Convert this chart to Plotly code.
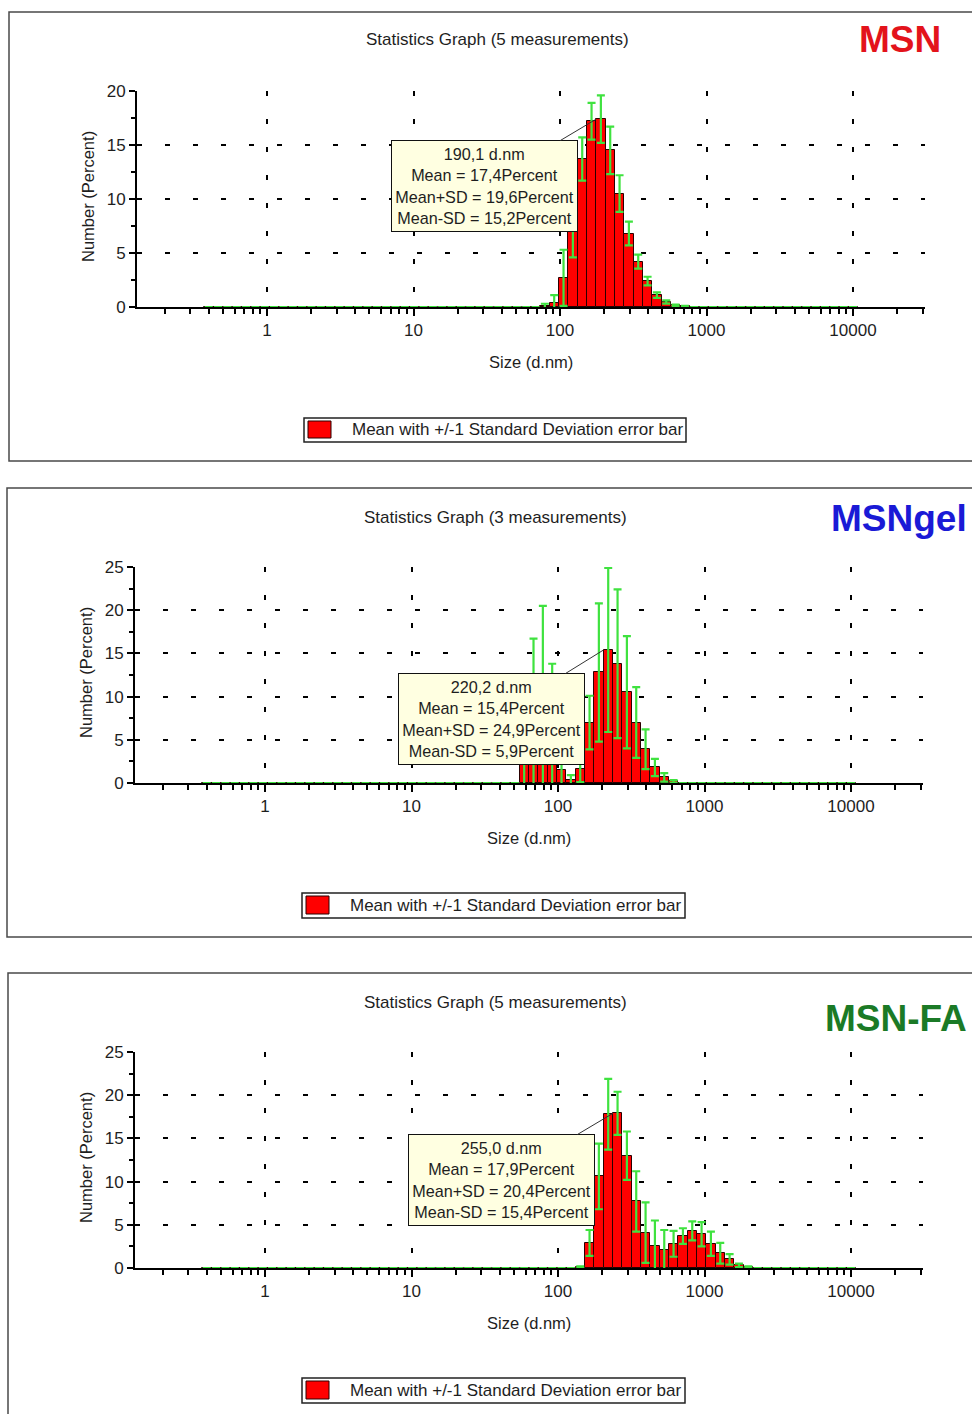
import numpy as np
import plotly.graph_objects as go

# ---------------- data ----------------
SIZES = [0.4, 0.4632, 0.5365, 0.6213, 0.7195, 0.8332, 0.9649, 1.117, 1.294, 1.499,
         1.736, 2.01, 2.328, 2.696, 3.122, 3.615, 4.187, 4.849, 5.615, 6.503,
         7.531, 8.721, 10.1, 11.7, 13.54, 15.69, 18.17, 21.04, 24.36, 28.21,
         32.67, 37.84, 43.82, 50.75, 58.77, 68.06, 78.82, 91.28, 105.7, 122.4,
         141.8, 164.2, 190.1, 220.2, 255.0, 295.3, 342.0, 396.1, 458.7, 531.2,
         615.1, 712.4, 825.0, 955.4, 1106, 1281, 1484, 1718, 1990, 2305,
         2669, 3091, 3580, 4145, 4801, 5560, 6439, 7456, 8635, 10000]

MSN_MEAN = [0, 0, 0, 0, 0, 0, 0, 0, 0, 0,
            0, 0, 0, 0, 0, 0, 0, 0, 0, 0,
            0, 0, 0, 0, 0, 0, 0, 0, 0, 0,
            0, 0, 0, 0, 0, 0, 0.1, 0.4, 2.7, 8.0,
            13.7, 17.2, 17.4, 14.5, 10.5, 6.8, 4.2, 2.4, 1.1, 0.46,
            0.15, 0.05, 0, 0, 0, 0, 0, 0, 0, 0,
            0, 0, 0, 0, 0, 0, 0, 0, 0, 0]
MSN_SD = [0, 0, 0, 0, 0, 0, 0, 0, 0, 0,
          0, 0, 0, 0, 0, 0, 0, 0, 0, 0,
          0, 0, 0, 0, 0, 0, 0, 0, 0, 0,
          0, 0, 0, 0, 0, 0, 0.2, 0.7, 2.6, 3.4,
          2.0, 1.7, 2.2, 2.2, 1.7, 1.1, 0.65, 0.4, 0.25, 0.15,
          0.08, 0.05, 0, 0, 0, 0, 0, 0, 0, 0,
          0, 0, 0, 0, 0, 0, 0, 0, 0, 0]

GEL_MEAN = [0, 0, 0, 0, 0, 0, 0, 0, 0, 0,
            0, 0, 0, 0, 0, 0, 0, 0, 0, 0,
            0, 0, 0, 0, 0, 0, 0, 0, 0, 0,
            0, 0, 0, 0, 3.0, 6.5, 8.5, 5.5, 1.5, 0.3,
            1.6, 7.0, 12.8, 15.4, 13.8, 10.5, 7.0, 3.9, 1.8, 0.65,
            0.2, 0, 0, 0, 0, 0, 0, 0, 0, 0,
            0, 0, 0, 0, 0, 0, 0, 0, 0, 0]
GEL_SD = [0, 0, 0, 0, 0, 0, 0, 0, 0, 0,
          0, 0, 0, 0, 0, 0, 0, 0, 0, 0,
          0, 0, 0, 0, 0, 0, 0, 0, 0, 0,
          0, 0, 0, 0, 5.0, 10.2, 12.0, 8.3, 2.5, 0.6,
          1.5, 3.1, 8.0, 9.5, 8.6, 6.5, 4.1, 2.3, 1.0, 0.5,
          0.15, 0, 0, 0, 0, 0, 0, 0, 0, 0,
          0, 0, 0, 0, 0, 0, 0, 0, 0, 0]

FA_MEAN = [0, 0, 0, 0, 0, 0, 0, 0, 0, 0,
           0, 0, 0, 0, 0, 0, 0, 0, 0, 0,
           0, 0, 0, 0, 0, 0, 0, 0, 0, 0,
           0, 0, 0, 0, 0, 0, 0, 0, 0, 0,
           0.1, 2.9, 10.6, 17.8, 17.9, 13.0, 7.7, 4.1, 2.6, 2.1,
           2.8, 3.7, 4.3, 3.9, 2.8, 1.7, 1.0, 0.3, 0.1, 0,
           0, 0, 0, 0, 0, 0, 0, 0, 0, 0]
FA_SD = [0, 0, 0, 0, 0, 0, 0, 0, 0, 0,
         0, 0, 0, 0, 0, 0, 0, 0, 0, 0,
         0, 0, 0, 0, 0, 0, 0, 0, 0, 0,
         0, 0, 0, 0, 0, 0, 0, 0, 0, 0,
         0.1, 1.5, 3.8, 4.1, 2.5, 2.8, 3.5, 3.5, 2.9, 2.3,
         1.5, 0.9, 1.1, 1.4, 1.4, 1.2, 0.6, 0.2, 0.1, 0,
         0, 0, 0, 0, 0, 0, 0, 0, 0, 0]

SAMPLES = ["MSN", "MSNgel", "MSN-FA"]
MEASUREMENTS = [5, 3, 5]
Y_MAX = [20, 25, 25]
X_TICK_VALUES = [1, 10, 100, 1000, 10000]
X_TICK_LABELS = ["1", "10", "100", "1000", "10000"]
X_MINOR_VALUES = [0.2, 0.3, 0.4, 0.5, 0.6, 0.7, 0.8, 0.9,
                  2, 3, 4, 5, 6, 7, 8, 9,
                  20, 30, 40, 50, 60, 70, 80, 90,
                  200, 300, 400, 500, 600, 700, 800, 900,
                  2000, 3000, 4000, 5000, 6000, 7000, 8000, 9000,
                  20000, 30000]
LEGEND_TEXT = "Mean with +/-1 Standard Deviation error bar"

MEANS = [MSN_MEAN, GEL_MEAN, FA_MEAN]
SDS = [MSN_SD, GEL_SD, FA_SD]

# ---------------- layout geometry (pixels in the 972x1414 picture) ----------------
W, H = 972, 1414
FONT = "Liberation Sans, Arial, sans-serif"
TXT = "#1e1e1e"


def fx(p):
    return p / W


def fy(p):
    return 1 - p / H


PANELS = [
    dict(x0=137, x1=925, y0=307, y1=91, title=(497, 40), label=(900, 40), color="#e3131b",
         ytitle=(88, 197), xtitle=(531, 362), legend=(304, 418, 686, 442),
         tip=(484, 186), frame=(9, 12, 1010, 461)),
    dict(x0=135, x1=923, y0=783, y1=567, title=(495, 517), label=(899, 518), color="#1a1ad6",
         ytitle=(86, 673), xtitle=(529, 838), legend=(302, 893, 685, 918),
         tip=(492, 719), frame=(7, 488, 1010, 937)),
    dict(x0=135, x1=923, y0=1268, y1=1052, title=(495, 1002), label=(896, 1018), color="#1b7a26",
         ytitle=(86, 1158), xtitle=(529, 1323), legend=(302, 1378, 685, 1403),
         tip=(501, 1180), frame=(8, 973, 1010, 1460)),
]
X_RANGE = [-0.8874, 4.4915]

fig = go.Figure()
annotations = []
shapes = []

logx = np.log10(np.array(SIZES, dtype=float))


def c(v):
    return f"{v:.1f}".replace(".", ",")


for i, P in enumerate(PANELS):
    n = "" if i == 0 else str(i + 1)
    xa, ya = "x" + n, "y" + n
    mean = MEANS[i]
    sd = SDS[i]

    fig.add_trace(go.Bar(
        x=logx, y=mean, xaxis=xa, yaxis=ya,
        marker=dict(color="#ff0000", line=dict(color="#2a0000", width=1)),
        error_y=dict(type="data", array=sd, visible=True, color="#3fe23f",
                     thickness=2.2, width=4),
        showlegend=False, hoverinfo="skip",
    ))

    tick_font = dict(family=FONT, size=17, color=TXT)
    fig.update_layout(**{
        "xaxis" + n: dict(
            domain=[fx(P["x0"]), fx(P["x1"])], range=X_RANGE, anchor=ya,
            tickmode="array", tickvals=np.log10(X_TICK_VALUES), ticktext=X_TICK_LABELS,
            ticks="outside", ticklen=7, tickwidth=1.5, tickcolor="black",
            ticklabelstandoff=0,
            minor=dict(tickmode="array", tickvals=np.log10(X_MINOR_VALUES),
                       ticks="outside", ticklen=5, tickwidth=1.5, tickcolor="black",
                       showgrid=False),
            showline=True, linecolor="black", linewidth=2,
            showgrid=True, gridcolor="black", gridwidth=1.5, griddash="5px,23px",
            zeroline=False, tickfont=tick_font, layer="below traces",
            fixedrange=True, automargin=False,
        ),
        "yaxis" + n: dict(
            domain=[fy(P["y0"]), fy(P["y1"])], range=[0, Y_MAX[i]], anchor=xa,
            tickmode="linear", tick0=0, dtick=5,
            ticks="outside", ticklen=6, tickwidth=1.5, tickcolor="black",
            minor=dict(dtick=2.5, ticks="outside", ticklen=4, tickwidth=1.5,
                       tickcolor="black", showgrid=False),
            showline=True, linecolor="black", linewidth=2,
            showgrid=True, gridcolor="black", gridwidth=1.5, griddash="5px,23px",
            zeroline=False, tickfont=tick_font, fixedrange=True, automargin=False,
        ),
    })

    # frame
    fx0, fy0, fx1, fy1 = P["frame"]
    shapes.append(dict(type="rect", xref="paper", yref="paper",
                       x0=fx(fx0), x1=fx(fx1), y0=fy(fy1), y1=fy(fy0),
                       line=dict(color="#4a4a4a", width=1.5), fillcolor="rgba(0,0,0,0)",
                       layer="below"))

    # titles
    annotations.append(dict(xref="paper", yref="paper", x=fx(P["title"][0]), y=fy(P["title"][1]),
                            text=f"Statistics Graph ({MEASUREMENTS[i]} measurements)",
                            showarrow=False, font=dict(family=FONT, size=17, color=TXT),
                            xanchor="center", yanchor="middle"))
    annotations.append(dict(xref="paper", yref="paper", x=fx(P["label"][0]), y=fy(P["label"][1]),
                            text=f"<b>{SAMPLES[i]}</b>", showarrow=False,
                            font=dict(family=FONT, size=37, color=P["color"]),
                            xanchor="center", yanchor="middle"))
    annotations.append(dict(xref="paper", yref="paper", x=fx(P["ytitle"][0]), y=fy(P["ytitle"][1]),
                            text="Number (Percent)", textangle=-90, showarrow=False,
                            font=dict(family=FONT, size=16.5, color=TXT),
                            xanchor="center", yanchor="middle"))
    annotations.append(dict(xref="paper", yref="paper", x=fx(P["xtitle"][0]), y=fy(P["xtitle"][1]),
                            text="Size (d.nm)", showarrow=False,
                            font=dict(family=FONT, size=16.5, color=TXT),
                            xanchor="center", yanchor="middle"))

    # legend box
    lx0, ly0, lx1, ly1 = P["legend"]
    shapes.append(dict(type="rect", xref="paper", yref="paper",
                       x0=fx(lx0), x1=fx(lx1), y0=fy(ly1), y1=fy(ly0),
                       line=dict(color="#222", width=1.5), fillcolor="white"))
    shapes.append(dict(type="rect", xref="paper", yref="paper",
                       x0=fx(lx0 + 4), x1=fx(lx0 + 27), y0=fy(ly1 - 4), y1=fy(ly0 + 3),
                       line=dict(color="#2a0000", width=1), fillcolor="#ff0000"))
    annotations.append(dict(xref="paper", yref="paper", x=fx(lx0 + 46), y=fy((ly0 + ly1) / 2),
                            text=LEGEND_TEXT, showarrow=False,
                            font=dict(family=FONT, size=17, color=TXT),
                            xanchor="left", yanchor="middle"))

    # peak tooltip
    k = int(np.argmax(mean))
    m, s, size = mean[k], sd[k], SIZES[k]
    tip_text = (f"{c(size)} d.nm<br>Mean = {c(m)}Percent<br>"
                f"Mean+SD = {c(m + s)}Percent<br>Mean-SD = {c(m - s)}Percent")
    px_per_unit_x = (P["x1"] - P["x0"]) / (X_RANGE[1] - X_RANGE[0])
    bar_px = P["x0"] + (np.log10(size) - X_RANGE[0]) * px_per_unit_x - 4.6
    bar_py = P["y0"] - m * (P["y0"] - P["y1"]) / Y_MAX[i]
    annotations.append(dict(
        xref=xa, yref=ya, x=np.log10(size), y=m, xshift=-4.6,
        text=tip_text, showarrow=True, arrowhead=0, arrowwidth=1, arrowcolor="#333",
        axref="pixel", ayref="pixel", ax=P["tip"][0] - bar_px, ay=P["tip"][1] - bar_py,
        bgcolor="#ffffe1", bordercolor="#111", borderwidth=1, borderpad=2,
        width=181, height=86, align="center", valign="middle",
        font=dict(family=FONT, size=16.2, color=TXT),
    ))

fig.update_layout(
    width=W, height=H, autosize=False,
    margin=dict(l=0, r=0, t=0, b=0, autoexpand=False),
    paper_bgcolor="white", plot_bgcolor="white",
    barmode="overlay", bargap=0,
    annotations=annotations, shapes=shapes,
    showlegend=False,
)

fig.write_html("out.html")
